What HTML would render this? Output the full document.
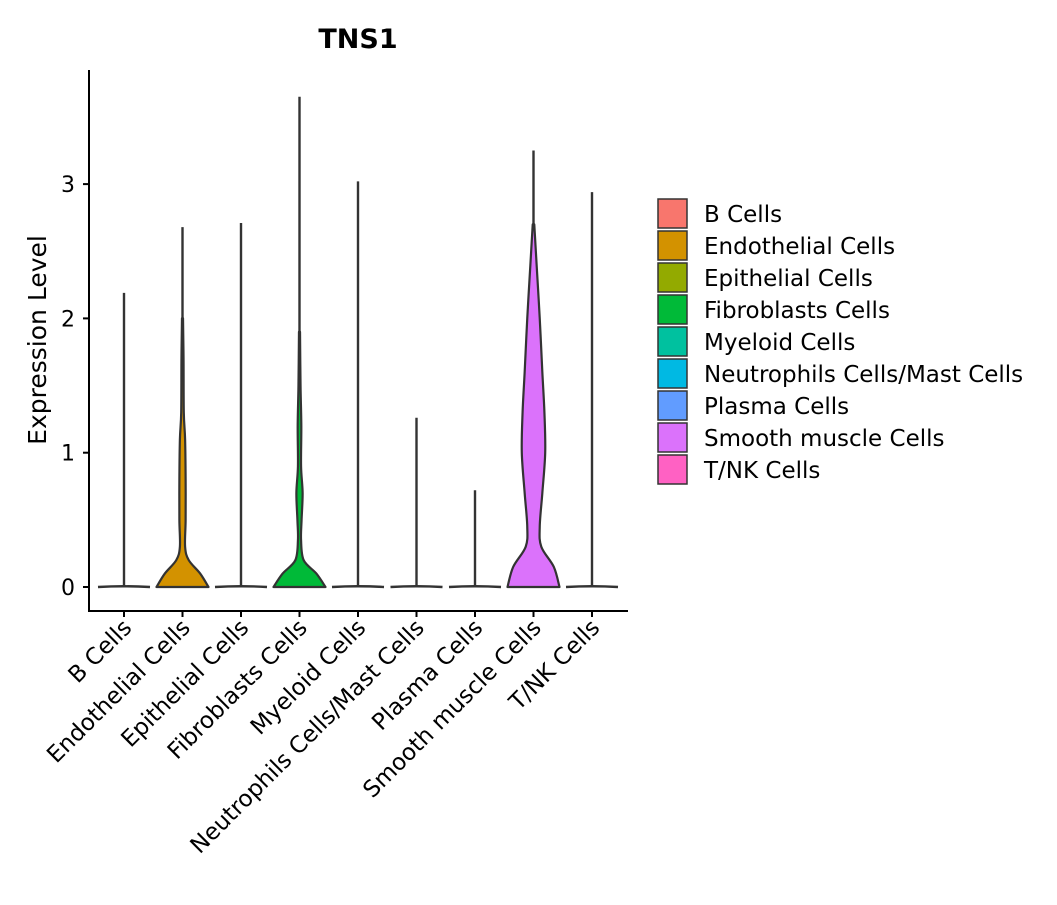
<!DOCTYPE html>
<html><head><meta charset="utf-8"><style>
body{margin:0;background:#fff}
svg text{font-family:"DejaVu Sans","Liberation Sans",sans-serif;fill:#000}
</style></head><body>
<svg id="chart" width="1057" height="900" viewBox="0 0 1057 900">
<text x="358" y="48" font-size="27" font-weight="bold" text-anchor="middle">TNS1</text>
<text transform="translate(46,340) rotate(-90)" font-size="25" text-anchor="middle">Expression Level</text>
<g id="plot"></g>
<g id="legend"></g>
</svg>
<script>
const categories=["B Cells","Endothelial Cells","Epithelial Cells","Fibroblasts Cells","Myeloid Cells","Neutrophils Cells/Mast Cells","Plasma Cells","Smooth muscle Cells","T/NK Cells"];
const colors=["#F8766D","#D39200","#93AA00","#00BA38","#00C19F","#00B9E3","#619CFF","#DB72FB","#FF61C3"];
const maxValues=[2.19,2.68,2.71,3.65,3.02,1.26,0.72,3.25,2.94];
const yTicks=[0,1,2,3];
// density profiles: levels (expression) and relative half-widths (0..1)
const endoLevels=[0,0.1,0.2,0.3,0.5,0.8,1.1,1.3,1.7,2.0];
const endoWidths=[1,0.68,0.24,0.1,0.12,0.12,0.1,0.05,0.04,0.02];
const fibroLevels=[0,0.1,0.2,0.35,0.5,0.7,0.9,1.2,1.5,1.9];
const fibroWidths=[1,0.65,0.16,0.06,0.08,0.12,0.06,0.07,0.04,0.02];
const smoothLevels=[0,0.15,0.3,0.45,0.7,1.0,1.3,1.6,2.0,2.4,2.7];
const smoothWidths=[1,0.78,0.3,0.24,0.34,0.45,0.42,0.34,0.24,0.12,0.03];
const profiles={1:[endoLevels,endoWidths],3:[fibroLevels,fibroWidths],7:[smoothLevels,smoothWidths]};

const NS="http://www.w3.org/2000/svg";
const x0=89,x1=628,yAxisBottom=611,yTop=70;
const yScale=v=>587-v*134.3;
const band=58.5;
const xScale=i=>124+band*i;
const maxHalf=26;
const plot=document.getElementById('plot');
function mk(tag,attrs,parent){const e=document.createElementNS(NS,tag);for(const k in attrs)e.setAttribute(k,attrs[k]);(parent||plot).appendChild(e);return e;}
function smooth(pts){
  let d='';
  for(let k=0;k<pts.length-1;k++){
    const p0=pts[Math.max(k-1,0)],p1=pts[k],p2=pts[k+1],p3=pts[Math.min(k+2,pts.length-1)];
    d+=` C${p1[0]+(p2[0]-p0[0])/6},${p1[1]+(p2[1]-p0[1])/6} ${p2[0]-(p3[0]-p1[0])/6},${p2[1]-(p3[1]-p1[1])/6} ${p2[0]},${p2[1]}`;
  }
  return d;
}
categories.forEach((c,i)=>{
  const cx=xScale(i);
  const g=mk('g',{});
  
  
  const line=mk('line',{x1:cx,x2:cx,y1:yScale(0),y2:yScale(maxValues[i]),stroke:'#333','stroke-width':2.4},g);
  
  
  if(profiles[i]){
    const [lv,wd]=profiles[i];
    const right=lv.map((v,k)=>[cx+wd[k]*maxHalf,yScale(v)]);
    const left=right.slice().reverse().map(p=>[2*cx-p[0],p[1]]);
    const last=right[right.length-1];
    let d=`M${cx-maxHalf},${yScale(0)} L${right[0][0]},${right[0][1]}`+smooth(right)+` L${2*cx-last[0]},${last[1]}`+smooth(left)+'Z';
    const p=mk('path',{d,fill:colors[i],stroke:'#333','stroke-width':2.2,'stroke-linejoin':'round'},g);
    
    
  } else {
    const b=mk('path',{d:`M${cx-maxHalf},${yScale(0)} Q${cx},${yScale(0)-1.5} ${cx+maxHalf},${yScale(0)}`,fill:colors[i],stroke:'#333','stroke-width':2.4},g);
    
    
  }
  const t=mk('line',{x1:cx,x2:cx,y1:yAxisBottom,y2:yAxisBottom+6,stroke:'#000','stroke-width':2});
  
  
  const lab=mk('text',{transform:`translate(${cx+9},${yAxisBottom+18}) rotate(-45)`,'font-size':23,'text-anchor':'end'});
  lab.textContent=c;
  
  
});
yTicks.forEach(v=>{
  const t=mk('line',{x1:x0-6,x2:x0,y1:yScale(v),y2:yScale(v),stroke:'#000','stroke-width':2});
  
  
  const l=mk('text',{x:x0-14,y:yScale(v)+8,'font-size':22,'text-anchor':'end'});
  l.textContent=v;
  
  
});
const ya=mk('line',{x1:x0,x2:x0,y1:yTop,y2:yAxisBottom+1,stroke:'#000','stroke-width':2});


const xa=mk('line',{x1:x0-1,x2:x1,y1:yAxisBottom,y2:yAxisBottom,stroke:'#000','stroke-width':2});



const legend=document.getElementById('legend');


categories.forEach((c,i)=>{
  const y=199+i*32;
  const g=mk('g',{},legend);
  
  
  mk('rect',{x:658,y:y,width:29,height:29,fill:colors[i],stroke:'#333','stroke-width':1.5},g);
  const t=mk('text',{x:704,y:y+23,'font-size':23},g);
  t.textContent=c;
});
</script>
</body></html>
